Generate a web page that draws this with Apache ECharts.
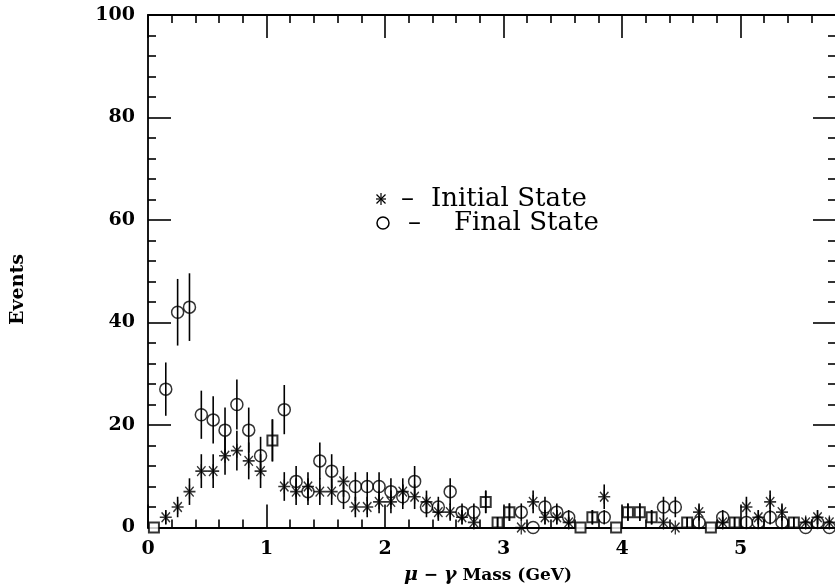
<!DOCTYPE html>
<html><head><meta charset="utf-8">
<script src="https://cdn.jsdelivr.net/npm/echarts@6/dist/echarts.min.js"></script>
<style>html,body{margin:0;padding:0;background:#fff}#c{width:835px;height:587px}</style>
</head><body><div id="c"></div>
<script>
// Bin centres (GeV), 0.1 GeV bins
const binCenters = [0.05,0.15,0.25,0.35,0.45,0.55,0.65,0.75,0.85,0.95,
  1.05,1.15,1.25,1.35,1.45,1.55,1.65,1.75,1.85,1.95,
  2.05,2.15,2.25,2.35,2.45,2.55,2.65,2.75,2.85,2.95,
  3.05,3.15,3.25,3.35,3.45,3.55,3.65,3.75,3.85,3.95,
  4.05,4.15,4.25,4.35,4.45,4.55,4.65,4.75,4.85,4.95,
  5.05,5.15,5.25,5.35,5.45,5.55,5.65,5.75];
// Initial state radiation (asterisks)
const initialState = [0,2,4,7,11,11,14,15,13,11,
  17,8,7,8,7,7,9,4,4,5,
  5,7,6,5,3,3,2,1,5,1,
  3,0,5,2,2,1,0,2,6,0,
  3,3,2,1,0,1,3,0,1,1,
  4,2,5,3,1,1,2,1];
const initialErr = [0,1.4,2,2.6,3.3,3.3,3.7,3.9,3.6,3.3,
  4.1,2.8,2.6,2.8,2.6,2.6,3,2,2,2.2,
  2.2,2.6,2.4,2.2,1.7,1.7,1.4,1,2.2,1,
  1.7,0,2.2,1.4,1.4,1,0,1.4,2.4,0,
  1.7,1.7,1.4,1,0,1,1.7,0,1,1,
  2,1.4,2.2,1.7,1,1,1.4,1];
// Final state radiation (circles)
const finalState = [0,27,42,43,22,21,19,24,19,14,
  17,23,9,7,13,11,6,8,8,8,
  7,6,9,4,4,7,3,3,5,1,
  3,3,0,4,3,2,0,2,2,0,
  3,3,2,4,4,1,1,0,2,1,
  1,1,2,1,1,0,1,0];
const finalErr = [0,5.2,6.5,6.6,4.7,4.6,4.4,4.9,4.4,3.7,
  4.1,4.8,3,2.6,3.6,3.3,2.4,2.8,2.8,2.8,
  2.6,2.4,3,2,2,2.6,1.7,1.7,2.2,1,
  1.7,1.7,0,2,1.7,1.4,0,1.4,1.4,0,
  1.7,1.7,1.4,2,2,1,1,0,1.4,1,
  1,1,1.4,1,1,0,1,0];
const xTickLabels = ['0','1','2','3','4','5','6'];
const yTickLabels = ['0','20','40','60','80','100'];

const FONT = '"DejaVu Serif", serif';
const STAR = 'path://M10 0L10 20M3 3L17 17M17 3L3 17M0 10L20 10';

const chart = echarts.init(document.getElementById('c'), null, {renderer: 'canvas'});

const initData = [], finalData = [], initBars = [], finalBars = [];
binCenters.forEach((x, i) => {
  const same = initialState[i] === finalState[i];
  finalData.push(same ? {value: [x, finalState[i]], symbol: 'rect', symbolSize: 10,
    itemStyle: {color: '#fff', borderColor: '#000', borderWidth: 2}} : [x, finalState[i]]);
  if (!same) initData.push([x, initialState[i]]);
  initBars.push([x, initialState[i], initialErr[i]]);
  finalBars.push([x, finalState[i], finalErr[i]]);
});

function errBar(params, api) {
  const x = api.value(0), y = api.value(1), e = api.value(2);
  if (!e) return null;
  const p1 = api.coord([x, y + e]);
  const p2 = api.coord([x, Math.max(0, y - e)]);
  return {type: 'line', shape: {x1: p1[0], y1: p1[1], x2: p2[0], y2: p2[1]},
    style: {stroke: '#000', lineWidth: 1.6}};
}

const axisLine = {show: true, onZero: false, lineStyle: {color: '#000', width: 1.8}};
const tickLong = {show: true, inside: true, length: 23, lineStyle: {color: '#000', width: 1.6}};
const tickShort = {show: true, splitNumber: 5, length: 8, lineStyle: {color: '#000', width: 1.6}};
const labelStyle = {color: '#000', fontFamily: FONT, fontWeight: 'bold', fontSize: 19};

const legStar = (cx, cy) => {
  const s = {stroke: '#000', lineWidth: 1.2};
  return {type: 'group', children: [
    {type: 'line', shape: {x1: cx, y1: cy - 6, x2: cx, y2: cy + 6}, style: s},
    {type: 'line', shape: {x1: cx - 4.5, y1: cy - 4.5, x2: cx + 4.5, y2: cy + 4.5}, style: s},
    {type: 'line', shape: {x1: cx + 4.5, y1: cy - 4.5, x2: cx - 4.5, y2: cy + 4.5}, style: s},
    {type: 'line', shape: {x1: cx - 5, y1: cy, x2: cx + 5, y2: cy}, style: s}
  ]};
};
const legText = (x, y, t) => ({type: 'text', x: x, y: y,
  style: {text: t, font: '26px ' + FONT, fill: '#000', verticalAlign: 'middle', align: 'left'}});

chart.setOption({
  animation: false,
  backgroundColor: '#fff',
  grid: [
    {left: 148, right: -24, top: 15, bottom: 59.5, show: false, containLabel: false, outerBoundsMode: 'none'},
    {left: 148, right: -1, top: 15, bottom: 59.5, show: false, containLabel: false, outerBoundsMode: 'none'}
  ],
  xAxis: [
    {gridIndex: 0, type: 'value', position: 'bottom', min: 0, max: 6, interval: 1,
      axisLine, axisTick: tickLong, minorTick: tickShort, splitLine: {show: false},
      axisLabel: Object.assign({margin: 12, formatter: v => xTickLabels[Math.round(v)]}, labelStyle)},
    {gridIndex: 0, type: 'value', position: 'top', min: 0, max: 6, interval: 1,
      axisLine, axisTick: tickLong, minorTick: tickShort, splitLine: {show: false},
      axisLabel: {show: false}},
    {gridIndex: 1, type: 'value', min: 0, max: 1, show: false}
  ],
  yAxis: [
    {gridIndex: 0, type: 'value', position: 'left', min: 0, max: 100, interval: 20,
      axisLine, axisTick: tickLong, minorTick: tickShort, splitLine: {show: false},
      axisLabel: Object.assign({margin: 13, formatter: v => yTickLabels[Math.round(v / 20)]}, labelStyle)},
    {gridIndex: 1, type: 'value', position: 'right', min: 0, max: 100, interval: 20,
      axisLine, axisTick: tickLong, minorTick: tickShort, splitLine: {show: false},
      axisLabel: {show: false}}
  ],
  series: [
    {type: 'scatter', name: 'Final State', xAxisIndex: 0, yAxisIndex: 0, data: finalData,
      symbol: 'circle', symbolSize: 12,
      itemStyle: {color: 'rgba(255,255,255,0)', borderColor: '#000', borderWidth: 1.5}, z: 3},
    {type: 'scatter', name: 'Initial State', xAxisIndex: 0, yAxisIndex: 0, data: initData,
      symbol: STAR, symbolSize: [12, 14],
      itemStyle: {color: 'rgba(255,255,255,0)', borderColor: '#000', borderWidth: 1.4}, z: 3},
    {type: 'custom', xAxisIndex: 0, yAxisIndex: 0, data: initBars, renderItem: errBar,
      encode: {x: 0, y: 1}, z: 4, silent: true},
    {type: 'custom', xAxisIndex: 0, yAxisIndex: 0, data: finalBars, renderItem: errBar,
      encode: {x: 0, y: 1}, z: 4, silent: true}
  ],
  graphic: [
    legStar(381, 199),
    legText(401, 199, '–'),
    legText(431, 199, 'Initial State'),
    {type: 'circle', shape: {cx: 383, cy: 223, r: 6}, style: {fill: 'none', stroke: '#000', lineWidth: 1.5}},
    legText(408, 223, '–'),
    legText(454, 223, 'Final State'),
    {type: 'text', left: 9, top: 254, rotation: Math.PI / 2,
      style: {text: 'Events', font: 'bold 19px ' + FONT, fill: '#000'}},
    {type: 'text', left: 404, top: 566,
      style: {rich: {
        g: {fontFamily: FONT, fontStyle: 'italic', fontWeight: 'bold', fontSize: 19, fill: '#000'},
        n: {fontFamily: FONT, fontWeight: 'bold', fontSize: 17, fill: '#000'}
      }, text: '{g|μ}{n| − }{g|γ}{n| Mass (GeV)}'}}
  ]
});
</script></body></html>
